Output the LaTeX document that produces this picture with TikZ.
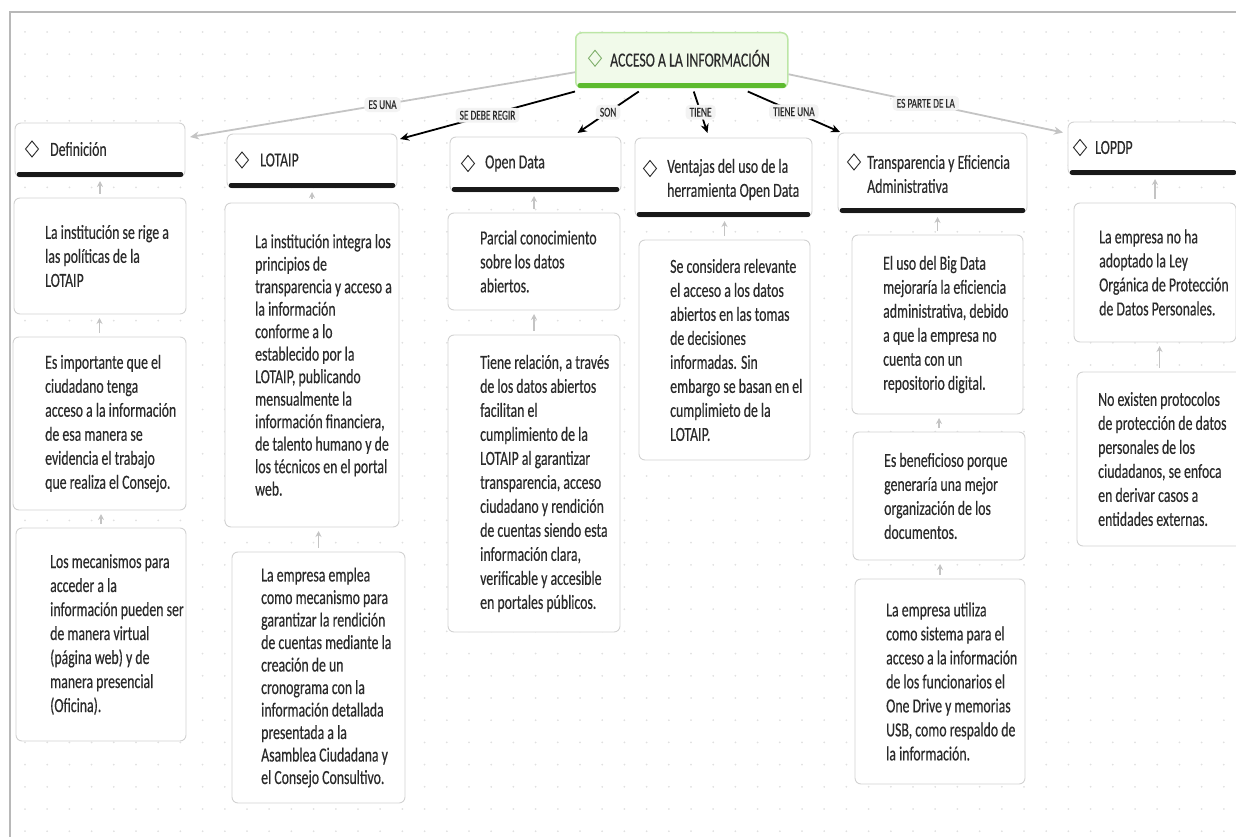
\documentclass[tikz,border=0pt]{standalone}
\usepackage{fontspec}
\setmainfont{Carlito}[FakeStretch=0.69,FakeBold=0.35]
\usetikzlibrary{arrows.meta,calc}

\definecolor{txt}{HTML}{2B2B2B}
\definecolor{boxline}{HTML}{D2D2D2}
\definecolor{conn}{HTML}{C4C4C4}
\definecolor{rootfill}{HTML}{F1FAEA}
\definecolor{rootline}{HTML}{BCE6A6}
\definecolor{rootbar}{HTML}{5DBB2F}
\definecolor{rootdiam}{HTML}{7FAF6A}
\definecolor{lblfill}{HTML}{F3F3F3}
\definecolor{dotc}{HTML}{E0E0E0}
\definecolor{framec}{HTML}{B8B8B8}

\tikzset{
  cbox/.style={draw=boxline, line width=0.9pt, fill=white, rounded corners=6pt,
    anchor=north west, inner sep=0pt, outer sep=0pt},
  ctext/.style={anchor=west, inner sep=0pt, align=left, text=txt,
    font=\fontsize{20}{24}\selectfont},
  htext/.style={anchor=west, inner sep=0pt, align=left, text=txt,
    font=\fontsize{20}{24}\selectfont},
  lbl/.style={fill=lblfill, rounded corners=4pt, inner xsep=4pt, inner ysep=3pt,
    text=txt, font=\fontsize{13.5}{15}\selectfont},
  mainarrow/.style={draw=black, line width=1.8pt, -{Stealth[length=9pt,width=8pt]}},
  softarrow/.style={draw=conn, line width=1.8pt, -{Stealth[length=9pt,width=8pt]}},
  uparrow/.style={draw=conn, line width=1.1pt, -{Stealth[length=6pt,width=6pt]},
    shorten <=4pt, shorten >=4pt},
  hbar/.style={line width=4.5pt, line cap=round, draw=black!90},
  diam/.pic={\draw[line width=0.9pt] (-6.5,0)--(0,-8)--(6.5,0)--(0,8)--cycle;}
}

\begin{document}
\begin{tikzpicture}[x=1pt,y=-1pt]
\useasboundingbox (0,0) rectangle (1236,837);
\clip (0,0) rectangle (1236,837);

% dotted canvas and frame
\foreach \gx in {25,47.2,...,1236}
  \foreach \gy in {32,54.2,...,837}
    \fill[dotc] (\gx,\gy) circle (1pt);
\draw[framec, line width=2pt] (10,840) -- (10,12) -- (1240,12);

% central topic
\node[draw=rootline, fill=rootfill, line width=1.5pt, rounded corners=6pt,
  minimum width=212, minimum height=55, anchor=north west, inner sep=0pt] (root) at (575,32) {};
\draw[line width=5pt, rootbar, line cap=round] ($(root.south west)+(5,-3)$) -- ($(root.south east)+(-5,-3)$);
\pic[rootdiam] at ($(root.west)+(20,-2)$) {diam};
\node[htext] (rootT) at ($(root.west)+(35,-2)$) {ACCESO A LA INFORMACIÓN};

% headers
\node[cbox, minimum width=170, minimum height=54] (hD) at (15,123) {};
\node[cbox, minimum width=170, minimum height=54] (hL) at (227,134) {};
\node[cbox, minimum width=171, minimum height=55] (hO) at (450,137) {};
\node[cbox, minimum width=177, minimum height=79] (hV) at (635,138) {};
\node[cbox, minimum width=189, minimum height=80] (hT) at (838,133) {};
\node[cbox, minimum width=170, minimum height=53] (hP) at (1068,122) {};
\foreach \h in {hD,hL,hO,hV,hT,hP}
  \draw[hbar] ($(\h.south west)+(4,-2.5)$) -- ($(\h.south east)+(-4,-2.5)$);

\pic[txt] at ($(hD.west)+(17,-1)$) {diam};
\node[htext] (hDt) at ($(hD.west)+(35,-1)$) {Definición};
\pic[txt] at ($(hL.west)+(15,-1)$) {diam};
\node[htext] (hLt) at ($(hL.west)+(33,-1)$) {LOTAIP};
\pic[txt] at ($(hO.west)+(18,-1)$) {diam};
\node[htext] (hOt) at ($(hO.west)+(35,-1)$) {Open Data};
\pic[txt] at ($(hV.west)+(15,-9)$) {diam};
\node[htext] (hVt) at ($(hV.west)+(32,2)$) {Ventajas del uso de la\\herramienta Open Data};
\pic[txt] at ($(hT.west)+(16,-11)$) {diam};
\node[htext] (hTt) at ($(hT.west)+(29,1)$) {Transparencia y Eficiencia\\Administrativa};
\pic[txt] at ($(hP.west)+(12,-1)$) {diam};
\node[htext] (hPt) at ($(hP.west)+(27,-1)$) {LOPDP};

% detail boxes
\node[cbox, minimum width=172, minimum height=116] (dA) at (14,198) {};
\node[cbox, minimum width=173, minimum height=173] (dB) at (13,337) {};
\node[cbox, minimum width=170, minimum height=213] (dC) at (16,528) {};
\node[cbox, minimum width=174, minimum height=324] (lA) at (225,203) {};
\node[cbox, minimum width=173, minimum height=251] (lB) at (232,552) {};
\node[cbox, minimum width=172, minimum height=97]  (oA) at (448,213) {};
\node[cbox, minimum width=172, minimum height=297] (oB) at (448,335) {};
\node[cbox, minimum width=171, minimum height=220] (vA) at (639,240) {};
\node[cbox, minimum width=171, minimum height=179] (tA) at (852,235) {};
\node[cbox, minimum width=172, minimum height=128] (tB) at (853,432) {};
\node[cbox, minimum width=170, minimum height=205] (tC) at (855,579) {};
\node[cbox, minimum width=162, minimum height=139] (pA) at (1074,203) {};
\node[cbox, minimum width=165, minimum height=174] (pB) at (1077,372) {};

\node[ctext] at ($(dA.west)+(31,0)$) {La institución se rige a\\las políticas de la\\LOTAIP};
\node[ctext] at ($(dB.west)+(32,0)$) {Es importante que el\\ciudadano tenga\\acceso a la información\\de esa manera se\\evidencia el trabajo\\que realiza el Consejo.};
\node[ctext] at ($(dC.west)+(34,0)$) {Los mecanismos para\\acceder a la\\información pueden ser\\de manera virtual\\(página web) y de\\manera presencial\\(Oficina).};
\node[ctext, font=\fontsize{20}{22.5}\selectfont] at ($(lA.west)+(30,0)$) {La institución integra los\\principios de\\transparencia y acceso a\\la información\\conforme a lo\\establecido por la\\LOTAIP, publicando\\mensualmente la\\información financiera,\\de talento humano y de\\los técnicos en el portal\\web.};
\node[ctext, font=\fontsize{20}{22.5}\selectfont] at ($(lB.west)+(29,0)$) {La empresa emplea\\como mecanismo para\\garantizar la rendición\\de cuentas mediante la\\creación de un\\cronograma con la\\información detallada\\presentada a la\\Asamblea Ciudadana y\\el Consejo Consultivo.};
\node[ctext] at ($(oA.west)+(32,0)$) {Parcial conocimiento\\sobre los datos\\abiertos.};
\node[ctext] at ($(oB.west)+(32,0)$) {Tiene relación, a través\\de los datos abiertos\\facilitan el\\cumplimiento de la\\LOTAIP al garantizar\\transparencia, acceso\\ciudadano y rendición\\de cuentas siendo esta\\información clara,\\verificable y accesible\\en portales públicos.};
\node[ctext] at ($(vA.west)+(31,0)$) {Se considera relevante\\el acceso a los datos\\abiertos en las tomas\\de decisiones\\informadas. Sin\\embargo se basan en el\\cumplimieto de la\\LOTAIP.};
\node[ctext] at ($(tA.west)+(31,0)$) {El uso del Big Data\\mejoraría la eficiencia\\administrativa, debido\\a que la empresa no\\cuenta con un\\repositorio digital.};
\node[ctext] at ($(tB.west)+(31,0)$) {Es beneficioso porque\\generaría una mejor\\organización de los\\documentos.};
\node[ctext] at ($(tC.west)+(31,0)$) {La empresa utiliza\\como sistema para el\\acceso a la información\\de los funcionarios el\\One Drive y memorias\\USB, como respaldo de\\la información.};
\node[ctext] at ($(pA.west)+(25,0)$) {La empresa no ha\\adoptado la Ley\\Orgánica de Protección\\de Datos Personales.};
\node[ctext] at ($(pB.west)+(21,0)$) {No existen protocolos\\de protección de datos\\personales de los\\ciudadanos, se enfoca\\en derivar casos a\\entidades externas.};

% links from the central topic
\draw[softarrow] ($(root.west)+(0,12)$) -- node[lbl]{ES UNA} ($(hD.east)+(5,-13)$);
\draw[mainarrow] ($(root.south west)+(0,3)$) -- node[lbl]{SE DEBE REGIR} ($(hL.north east)+(3,5)$);
\draw[mainarrow] ($(root.south)+(-43,3)$) -- node[lbl]{SON} ($(hO.north)+(42,-4)$);
\draw[mainarrow] ($(root.south)+(12,3)$) -- node[lbl]{TIENE} ($(hV.north)+(-16,-5)$);
\draw[mainarrow] ($(root.south)+(66,3)$) -- node[lbl]{TIENE UNA} ($(hT.north west)+(2,-1)$);
\draw[softarrow] ($(root.east)+(0,14)$) -- node[lbl]{ES PARTE DE LA} ($(hP.west)+(-5,-16)$);

% links between stacked boxes
\draw[uparrow] (dA.north) -- (dA.north |- hD.south);
\draw[uparrow] (dB.north) -- (dB.north |- dA.south);
\draw[uparrow] (dC.north) -- (dC.north |- dB.south);
\draw[uparrow] (lA.north) -- (lA.north |- hL.south);
\draw[uparrow] (lB.north) -- (lB.north |- lA.south);
\draw[uparrow] (oA.north) -- (oA.north |- hO.south);
\draw[uparrow] (oB.north) -- (oB.north |- oA.south);
\draw[uparrow] (vA.north) -- (vA.north |- hV.south);
\draw[uparrow] (tA.north) -- (tA.north |- hT.south);
\draw[uparrow] (tB.north) -- (tB.north |- tA.south);
\draw[uparrow] (tC.north) -- (tC.north |- tB.south);
\draw[uparrow] (pA.north) -- (pA.north |- hP.south);
\draw[uparrow] (pB.north) -- (pB.north |- pA.south);
\end{tikzpicture}
\end{document}
